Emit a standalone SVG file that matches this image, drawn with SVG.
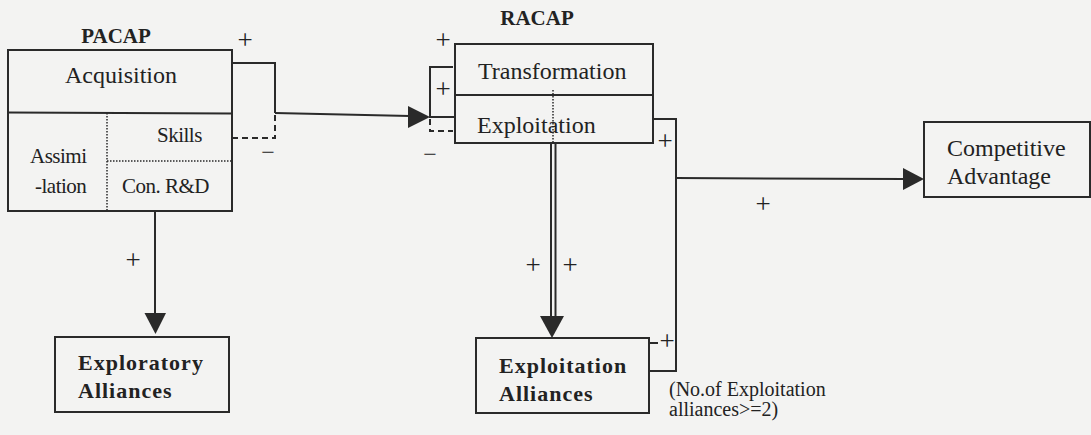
<svg xmlns="http://www.w3.org/2000/svg" width="1091" height="435" viewBox="0 0 1091 435">
<style>
  .bx{fill:none;stroke:#2a2a2a;stroke-width:2}
  .ln{fill:none;stroke:#2a2a2a;stroke-width:2}
  .ds{fill:none;stroke:#2a2a2a;stroke-width:2;stroke-dasharray:6 4}
  .dt{fill:none;stroke:#2a2a2a;stroke-width:1.5;stroke-dasharray:1.5 1.5}
  .ah{fill:#2a2a2a;stroke:none}
  text{font-family:"Liberation Serif","Times New Roman",serif;fill:#222}
  .t{font-size:24px}
  .s{font-size:21px;letter-spacing:-0.5px}
  .b{font-size:21px;font-weight:bold}
  .bl{font-size:22px;font-weight:bold;letter-spacing:1px}
  .n{font-size:20px}
  .sg{font-size:27px;text-anchor:middle}
  .mn{font-size:24px;text-anchor:middle}
</style>
<rect width="1091" height="435" fill="#f3f3f2"/>

<g id="pacap">
  <text class="b" x="116" y="43" text-anchor="middle">PACAP</text>
  <rect class="bx" x="8" y="50" width="224" height="161"/>
  <line class="ln" x1="8" y1="112.5" x2="232" y2="113.5"/>
  <line class="dt" x1="107" y1="113" x2="107" y2="211"/>
  <line class="dt" x1="107" y1="161" x2="232" y2="161"/>
  <text class="t" x="121" y="83" text-anchor="middle">Acquisition</text>
  <text class="s" x="157" y="142">Skills</text>
  <text class="s" x="30" y="163">Assimi</text>
  <text class="s" x="35" y="193">-lation</text>
  <text class="s" x="122" y="193">Con. R&amp;D</text>
</g>

<g id="racap">
  <text class="b" x="537" y="25" text-anchor="middle">RACAP</text>
  <rect class="bx" x="455" y="44" width="198" height="99"/>
  <line class="ln" x1="455" y1="95" x2="653" y2="95"/>
  <line class="dt" x1="553" y1="90" x2="553" y2="142"/>
  <text class="t" x="478" y="79">Transformation</text>
  <text class="t" x="477" y="133">Exploitation</text>
</g>

<g id="competitive">
  <rect class="bx" x="924" y="122" width="166" height="75"/>
  <text class="t" x="947" y="156">Competitive</text>
  <text class="t" x="947" y="184">Advantage</text>
</g>

<g id="exploratory">
  <rect class="bx" x="55" y="337" width="174" height="75"/>
  <text class="bl" x="78" y="370">Exploratory</text>
  <text class="bl" x="78" y="398">Alliances</text>
</g>

<g id="exploitation-alliances">
  <rect class="bx" x="476" y="338" width="173" height="75"/>
  <text class="bl" x="499" y="373">Exploitation</text>
  <text class="bl" x="499" y="401">Alliances</text>
</g>

<g id="note">
  <text class="n" x="669" y="396">(No.of Exploitation</text>
  <text class="n" x="669" y="416">alliances&gt;=2)</text>
</g>

<g id="connectors">
  <!-- PACAP to RACAP -->
  <polyline class="ln" points="232,63 275,63 275,113"/>
  <polyline class="ds" points="232,138 275,138 275,115"/>
  <line class="ln" x1="275" y1="113" x2="410" y2="116"/>
  <polygon class="ah" points="408,106 408,128 430,117"/>
  <polyline class="ln" points="453,67 430,67 430,117 454,117"/>
  <polyline class="ds" points="430,119 430,131 453,131"/>
  <!-- RACAP to Competitive Advantage and Exploitation Alliances -->
  <polyline class="ln" points="653,119 676,119 676,371 649,371"/>
  <line class="ln" x1="649" y1="343" x2="658" y2="343"/>
  <line class="ln" x1="676" y1="178" x2="904" y2="179"/>
  <polygon class="ah" points="903,168 903,190 924,179"/>
  <!-- double line RACAP to Exploitation Alliances -->
  <line class="ln" x1="551" y1="143" x2="551" y2="318"/>
  <line class="ln" x1="555.5" y1="143" x2="555.5" y2="318"/>
  <polygon class="ah" points="540,316 564,316 552,338"/>
  <!-- PACAP to Exploratory -->
  <line class="ln" x1="155" y1="211" x2="155" y2="315"/>
  <polygon class="ah" points="144.5,313 166,313 155.5,334"/>
  <!-- signs -->
  <text class="sg" x="245" y="49">+</text>
  <text class="mn" x="268" y="160">−</text>
  <text class="sg" x="443" y="49">+</text>
  <text class="sg" x="443" y="98">+</text>
  <text class="mn" x="430" y="162">−</text>
  <text class="sg" x="665" y="150">+</text>
  <text class="sg" x="763" y="213">+</text>
  <text class="sg" x="133" y="269">+</text>
  <text class="sg" x="533" y="274">+</text>
  <text class="sg" x="570" y="274">+</text>
  <text class="sg" x="667" y="350">+</text>
</g>
</svg>
